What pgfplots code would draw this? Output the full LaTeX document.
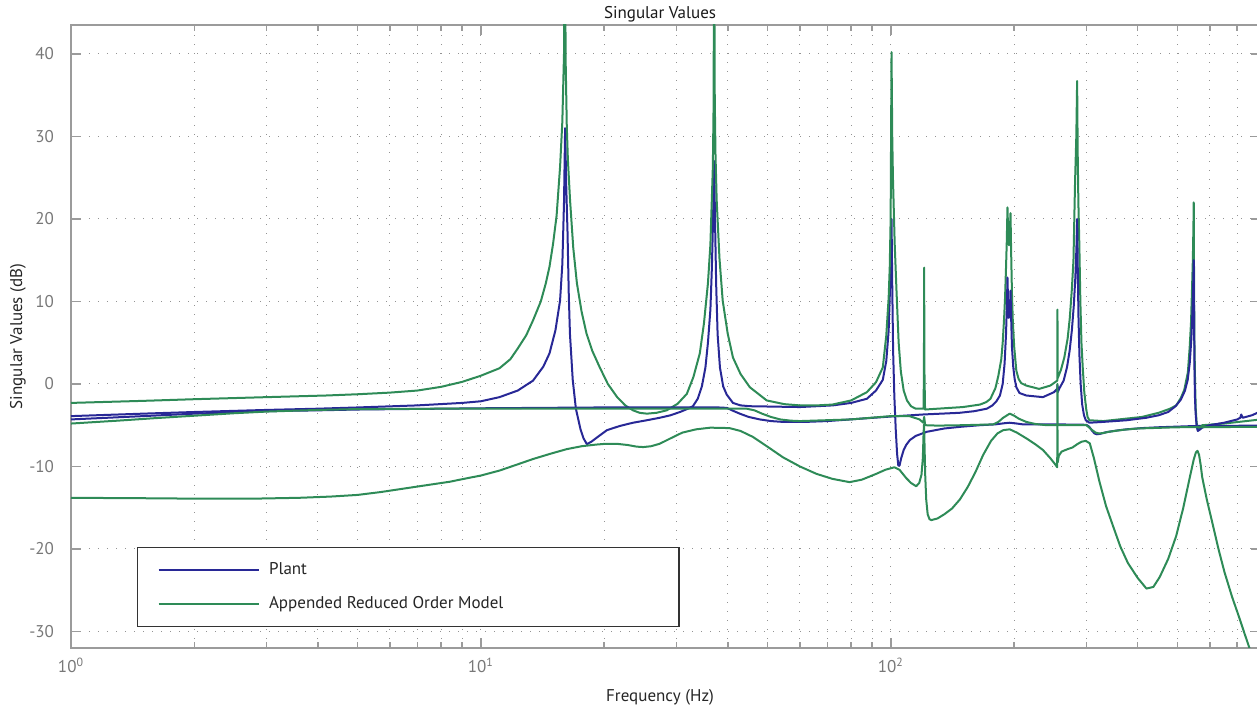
\documentclass[border=0pt]{standalone}
\usepackage{fontspec}
\setmainfont{PT Sans}
\usepackage{pgfplots}
\pgfplotsset{compat=1.18}
\definecolor{plantblue}{RGB}{40,40,150}
\definecolor{romgreen}{RGB}{46,139,87}
\definecolor{axgray}{RGB}{155,155,155}
\definecolor{tickgray}{RGB}{120,120,120}
\begin{document}
\begin{tikzpicture}[font=\fontsize{8.5}{10}\selectfont]
\begin{axis}[
  xmode=log, scale only axis, width=595pt, height=311.5pt,
  xmin=1, xmax=800, ymin=-32, ymax=43.5,
  xtick={1,10,100},
  xticklabels={10\textsuperscript{0},10\textsuperscript{1},10\textsuperscript{2}},
  minor xtick={2,3,4,5,6,7,8,9,20,30,40,50,60,70,80,90,200,300,400,500,600,700,800},
  ytick={-30,-20,-10,0,10,20,30,40},
  yticklabels={-30,-20,-10,0,10,20,30,40},
  xmajorgrids=true, xminorgrids=true, ymajorgrids=true,
  grid style={tickgray!80, dash pattern=on 0.7pt off 3.8pt, line width=0.5pt},
  minor grid style={tickgray!80, dash pattern=on 0.7pt off 3.8pt, line width=0.5pt},
  axis line style={axgray, line width=1pt},
  every tick/.style={axgray, line width=0.8pt},
  major tick length=5pt, minor tick length=3pt,
  tick align=inside,
  xticklabel style={text=tickgray, yshift=-1.5pt},
  yticklabel style={text=tickgray, xshift=-5pt},
  every axis x label/.style={at={(axis description cs:0.495,-0.0787)}, anchor=center, text=black!85},
  every axis y label/.style={at={(axis description cs:-0.0445,0.5)}, rotate=90, anchor=center, text=black!85},
  every axis title/.style={at={(axis description cs:0.495,1.0177)}, anchor=center, text=black!90},
  xlabel={Frequency (Hz)},
  ylabel={Singular Values (dB)},
  title={Singular Values},
  legend style={at={(0.0555,0.0337)}, anchor=south west, draw=black!80, line width=0.6pt,
    inner xsep=10pt, inner ysep=7pt, row sep=8.5pt, column sep=2.7pt,
    nodes={inner ysep=0pt, text height=6.5pt, text depth=2pt, text=black!85}},
  legend cell align=left,
  legend image code/.code={\draw[#1] (0pt,0pt) -- (50pt,0pt);},
  every axis plot/.append style={line width=1pt, line join=round},
]
% Plant (blue), first singular value track
\addplot[plantblue] coordinates {(1,-3.9) (1.5,-3.6) (2,-3.4) (3,-3.15) (4,-3.0) (5,-2.85) (7,-2.6) (9,-2.3) (10,-2.1) (11.1,-1.6) (12.3,-0.8) (13.4,0.4) (14.2,2.1) (14.7,3.7) (15.2,6.5) (15.6,10.1) (15.8,14.5) (15.95,22) (16.05,31) (16.15,24) (16.27,18.3) (16.38,11) (16.49,6.1) (16.75,0.5) (17.05,-3.0) (17.5,-5.5) (17.8,-6.6) (18.14,-7.3) (18.6,-7.0) (19.18,-6.5) (20.3,-5.6) (21.8,-5.1) (23.5,-4.7) (25.4,-4.4) (27.3,-4.1) (29,-3.8) (30.6,-3.4) (32,-3.0) (32.9,-2.7) (33.8,-1.8) (34.6,-0.3) (35.3,2) (35.8,5) (36.3,9) (36.6,14) (36.85,20) (37.07,27) (37.25,20) (37.5,12) (37.8,6) (38.3,2) (39,-0.3) (39.8,-1.3) (41.2,-2.3) (43,-2.6) (45.3,-2.7) (60,-2.8) (72.2,-2.6) (80,-2.3) (87.4,-1.8) (92,-0.8) (95.6,0.5) (97.5,2.8) (98.8,6.5) (99.6,12) (100.1,17) (100.4,20) (100.8,12) (101.3,4) (102,-1.5) (102.8,-5.5) (103.6,-8.5) (104.3,-9.9) (105,-9.9) (106,-9.0) (107.5,-8.0) (109,-7.4) (111.3,-6.8) (115,-6.3) (122.4,-5.8) (135,-5.4) (147.4,-5.2) (165,-5.0) (180,-4.9) (190,-4.75) (195,-4.7) (203,-4.8) (210,-4.9) (254,-4.9) (300,-4.95) (305,-5.2) (310,-5.7) (314,-6.0) (318,-6.1) (324,-6.05) (335,-5.85) (355,-5.65) (376,-5.5) (410,-5.35) (450,-5.25) (550,-5.1) (800,-5.05)};
\addlegendentry{\makebox[193pt][l]{Plant}}
% Appended Reduced Order Model (green), first singular value track
\addplot[romgreen] coordinates {(1,-2.3) (1.5,-2.05) (2,-1.85) (3,-1.6) (4.2,-1.4) (5,-1.25) (6,-1.05) (7,-0.8) (8,-0.35) (9,0.25) (10,1.0) (11.1,1.9) (11.8,3.0) (12.3,4.3) (12.9,5.9) (13.4,7.7) (14.0,10.0) (14.4,12.2) (14.7,14.2) (15.0,17.0) (15.3,20.4) (15.6,26.3) (15.8,31.8) (15.95,40) (16.03,55) (16.1,39) (16.2,31.2) (16.3,27.2) (16.5,22.3) (16.8,16.5) (17.15,12.2) (17.6,8.8) (18.1,6.1) (18.7,4.0) (19.5,2.0) (20.4,0.0) (21.5,-1.6) (22.5,-2.6) (23.5,-3.2) (24.4,-3.5) (25.4,-3.6) (26.8,-3.5) (28.4,-3.2) (30.2,-2.4) (31.8,-1.2) (33.0,0.85) (34.2,3.7) (35.0,7.3) (35.8,12.2) (36.3,16.9) (36.8,26.3) (36.95,33.5) (37.07,55) (37.2,34.6) (37.35,27.9) (37.6,22.3) (38.2,15.2) (38.9,10.1) (40.0,6.1) (41.2,3.2) (43,1.2) (45.3,-0.4) (47.5,-1.2) (49.8,-2.0) (55,-2.45) (60,-2.6) (66,-2.6) (72,-2.5) (80,-2.0) (87.4,-1.0) (92,0.2) (95.6,2.0) (97.5,5.9) (98.8,10.5) (99.4,14.2) (99.9,20) (100.4,40.2) (100.8,30) (101.2,25) (102.2,17) (103.3,11) (104.5,5) (105.8,1.5) (107.5,-0.8) (109.5,-2.0) (112,-2.7) (115,-3.0) (120.2,-3.0) (120.45,2) (120.6,14.1) (120.75,2) (121.2,-3.1) (130,-3.0) (150,-2.8) (165,-2.5) (171,-2.2) (175,-1.8) (180,-0.5) (183,1.0) (186,3) (187.5,5) (189,8) (190,10.5) (191,14) (191.8,17) (192.6,21.4) (193.5,17.5) (194.3,16.8) (195.1,18) (195.9,20.7) (196.6,16) (197.5,11) (198.5,7.5) (200,4.5) (202.4,1.6) (205,0.6) (208,0.1) (214,-0.2) (230,-0.6) (245,-0.2) (254.7,0.4) (255,9) (255.3,0.7) (260,1.7) (265,3.2) (270,5.5) (273.3,8) (276.5,11.5) (279,15) (281.5,24.5) (283.5,30) (284.8,36.7) (285.7,28) (286.8,22) (288.3,17) (290,10) (291.8,5) (293.9,2) (296.5,-1) (299.6,-3) (302,-4.0) (305,-4.4) (330,-4.5) (376,-4.2) (410,-4.0) (450,-3.5) (480,-3.0) (497,-2.6) (510,-1.7) (520,-0.7) (530.5,1.4) (536,4.5) (540,7.5) (543,11.5) (545.5,15) (547.3,19) (548.3,22) (549.3,12) (550.5,5) (552.5,0) (554.5,-3) (557,-4.6) (560.8,-5.6) (565,-5.4) (575,-5.0) (650,-4.8) (800,-4.3)};
\addlegendentry{\makebox[193pt][l]{Appended Reduced Order Model}}
% Plant (blue), second track
\addplot[plantblue, forget plot] coordinates {(1,-4.3) (1.5,-3.9) (2,-3.6) (3,-3.3) (4,-3.2) (5,-3.1) (10,-2.95) (19.5,-2.85) (30,-2.85) (38,-2.85) (39.8,-2.9) (41,-3.2) (42.8,-3.6) (45,-4.0) (47.9,-4.3) (51,-4.5) (54.5,-4.6) (62,-4.6) (70,-4.5) (85,-4.2) (100,-3.95) (120,-3.7) (147,-3.5) (160,-3.3) (171.5,-3.0) (177,-2.6) (181,-2.1) (184.6,-1.4) (187.5,0) (189.5,2.5) (191,6) (192,9.5) (192.6,12.9) (193.3,9.5) (194,8) (194.8,8.5) (195.4,9.5) (195.9,11.3) (196.6,8) (197.5,4.5) (199,2) (200.5,0.6) (202.4,-0.4) (206,-1.1) (214,-1.4) (235,-1.6) (250,-1.0) (254.7,-0.6) (255,-0.1) (255.4,-1.0) (258,-0.5) (264,0.4) (269,2) (273,4) (276.5,6.5) (279.5,9.5) (282,13) (283.7,16.5) (284.8,20) (285.8,14) (287,8) (288.5,3.5) (290.5,0) (293,-2.5) (296,-3.8) (299,-4.4) (305,-4.7) (330,-4.6) (376,-4.4) (420,-4.1) (450,-3.8) (475,-3.4) (495,-2.7) (510,-1.9) (522,-0.8) (530,0.5) (536,2.5) (541,5.5) (544.5,9) (547,12.5) (548.3,15) (549.3,8) (550.5,2) (552,-1.5) (554,-3.5) (557,-5.0) (561,-5.7) (565,-5.6) (575,-5.3) (600,-5.0) (650,-4.7) (700,-4.3) (712,-4.1) (716,-3.7) (719,-3.9) (722,-4.1) (760,-3.8) (800,-3.3)};
% Model (green), second track
\addplot[romgreen, forget plot] coordinates {(1,-4.8) (1.3,-4.45) (1.6,-4.15) (2,-3.85) (2.5,-3.55) (3,-3.35) (4,-3.15) (5,-3.05) (8,-3.0) (20,-3.0) (44.5,-3.0) (46.5,-3.2) (48.5,-3.6) (51,-4.0) (53.7,-4.3) (57,-4.45) (60,-4.5) (80,-4.3) (100,-3.9) (111,-3.9) (117.5,-4.3) (120,-4.7) (120.6,-4.0) (121.3,-5.0) (130,-5.05) (150,-5.0) (178,-4.9) (183,-4.6) (188,-4.1) (195,-3.6) (200,-3.85) (205,-4.2) (214,-4.6) (225,-4.85) (240,-5.0) (254.7,-5.0) (255,0) (255.3,-5.0) (300,-5.0) (305,-5.3) (310,-5.6) (316,-5.9) (322,-6.0) (330,-5.95) (340,-5.8) (370,-5.55) (400,-5.4) (500,-5.25) (800,-5.2)};
% Model (green), third track
\addplot[romgreen, forget plot] coordinates {(1,-13.8) (1.5,-13.85) (2,-13.9) (2.8,-13.9) (3.6,-13.8) (4.3,-13.65) (5,-13.45) (5.7,-13.1) (6.35,-12.75) (7.3,-12.3) (8.4,-11.85) (9.2,-11.45) (10,-11.1) (11.1,-10.5) (12.2,-9.8) (13.4,-9.1) (14.8,-8.45) (16.2,-7.9) (17.6,-7.55) (19.1,-7.35) (20.2,-7.25) (21.4,-7.25) (22.8,-7.4) (24.0,-7.6) (24.9,-7.65) (26,-7.55) (27.3,-7.25) (29,-6.6) (31,-5.9) (33.5,-5.5) (36.3,-5.3) (40.4,-5.35) (43,-5.7) (46,-6.4) (50,-7.6) (54.6,-8.9) (60,-10.0) (65.9,-10.9) (72,-11.5) (79.3,-11.9) (85,-11.6) (92.1,-10.9) (97,-10.4) (102,-10.1) (105,-10.4) (109,-11.4) (112,-12.0) (115.3,-12.4) (117.3,-12.0) (118.8,-11.0) (119.7,-9) (120.2,-6) (120.5,-4.9) (120.8,-7) (121.3,-11) (122,-14) (123,-15.8) (124.3,-16.4) (125.6,-16.5) (130,-16.3) (135,-15.8) (141,-15.1) (147.4,-14.0) (154,-12.5) (160.8,-10.7) (168,-8.6) (175.6,-6.9) (182,-6.0) (188,-5.6) (195.1,-5.5) (203,-5.9) (214.2,-6.6) (225,-7.3) (235,-8.0) (245,-9.0) (252.3,-9.8) (254.6,-10.1) (255,-5.0) (255.4,-9.5) (257,-8.7) (261,-8.2) (270,-7.9) (277.5,-7.7) (285,-7.3) (292,-7.0) (299,-6.9) (305.8,-7.2) (313,-9) (322.7,-11.8) (335,-14.8) (348.9,-17.3) (363,-19.7) (378.8,-21.7) (400,-23.5) (420.4,-24.8) (437,-24.6) (452.9,-23.4) (475,-21.2) (497,-18.4) (517,-15) (536.4,-11.3) (548,-9.2) (555,-8.3) (560,-8.1) (565,-8.6) (570,-9.8) (575,-11.3) (590,-14) (608.5,-16.8) (630,-20) (651.6,-22.8) (680,-25.8) (707.8,-28.3) (730,-30.3) (751,-32.1) (800,-36)};
\end{axis}
\pgfresetboundingbox
\path[use as bounding box] ([shift={(-35.5pt,-31.5pt)}]current axis.south west) rectangle ([shift={(-2pt,12.5pt)}]current axis.north east);
\end{tikzpicture}
\end{document}
